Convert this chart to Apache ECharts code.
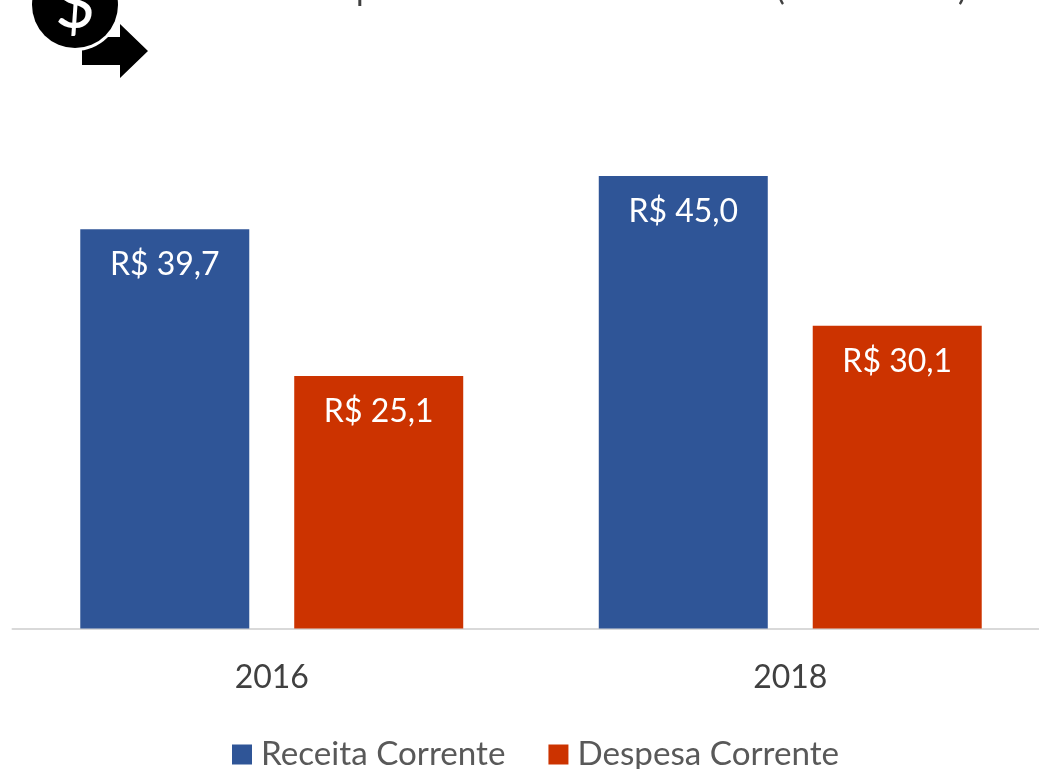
<!DOCTYPE html>
<html>
<head>
<meta charset="utf-8">
<script src="https://cdn.jsdelivr.net/npm/echarts@6/dist/echarts.min.js"></script>
<style>
html, body { margin: 0; padding: 0; background: #fff; overflow: hidden; }
#main { width: 1039px; height: 769px; }
</style>
</head>
<body>
<div id="main"></div>
<script>
const years = ['2016', '2018']
const receita = [39.7, 45.0]
const despesa = [25.1, 30.1]

const font = 'Lato'

function label(value) {
    return 'R$ ' + value.toFixed(1).replace('.', ',')
}

const barLabel = {
    show: true,
    position: 'insideTop',
    distance: 20,
    color: '#fff',
    fontFamily: font,
    fontSize: 32,
    formatter: p => label(p.value)
}

// pedaços do título cortado no topo da imagem
function titleBit(ch, x) {
    return {
        type: 'text',
        x: x,
        y: -27,
        style: { text: ch, fill: '#404040', font: '33px ' + font }
    }
}

const chart = echarts.init(document.getElementById('main'), null, { renderer: 'canvas' })
chart.setOption({
    animation: false,
    backgroundColor: '#fff',
    grid: { left: 12.5, top: 25, width: 1037, height: 603.5, containLabel: false, outerBoundsMode: 'none' },
    xAxis: {
        type: 'category',
        data: years,
        axisTick: { show: false },
        axisLine: { lineStyle: { color: '#D9D9D9', width: 2 } },
        axisLabel: { color: '#404040', fontFamily: font, fontSize: 32, margin: 33 }
    },
    yAxis: { type: 'value', min: 0, max: 60, show: false },
    legend: {
        left: 232,
        top: 738,
        padding: 0,
        itemWidth: 20,
        itemHeight: 20,
        itemGap: 43,
        icon: 'rect',
        textStyle: { color: '#595959', fontFamily: font, fontSize: 33.2, padding: [0, 0, 0, 4] },
        data: ['Receita Corrente', 'Despesa Corrente']
    },
    series: [
        { name: 'Receita Corrente', type: 'bar', data: receita, barWidth: 169, barGap: '26.6%', itemStyle: { color: '#2F5597' }, label: barLabel },
        { name: 'Despesa Corrente', type: 'bar', data: despesa, barWidth: 169, itemStyle: { color: '#CC3300' }, label: barLabel }
    ],
    graphic: [
        { type: 'polygon', shape: { points: [[82, 37], [120, 37], [120, 24], [148, 51], [120, 78], [120, 65], [82, 65]] }, style: { fill: '#000' } },
        { type: 'circle', shape: { cx: 75, cy: 5, r: 46 }, style: { fill: '#fff' } },
        { type: 'circle', shape: { cx: 75, cy: 5, r: 43 }, style: { fill: '#000' } },
        { type: 'text', x: 75, y: 5, style: { text: '$', fill: '#fff', font: '70px ' + font, align: 'center', verticalAlign: 'middle' } },
        titleBit('p', 356),
        titleBit('(', 776),
        titleBit(')', 958)
    ]
})
</script>
</body>
</html>
